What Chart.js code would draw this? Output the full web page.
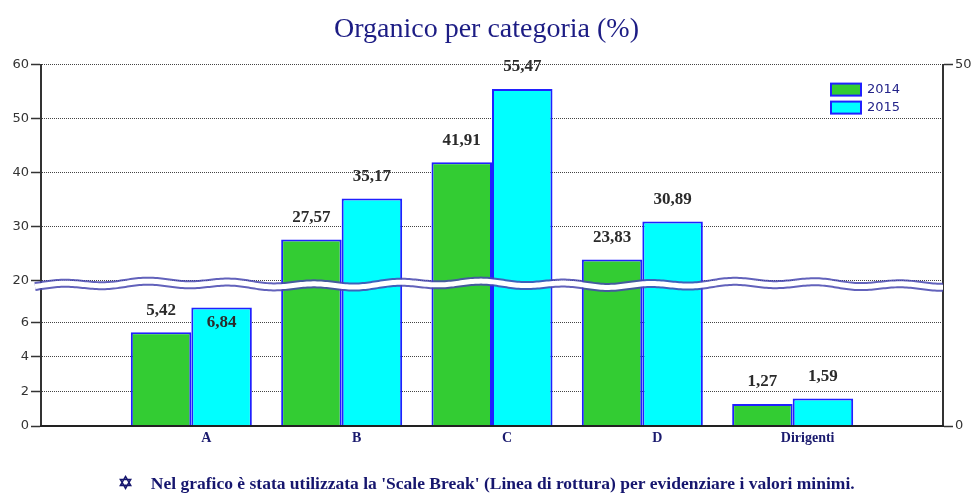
<!DOCTYPE html>
<html>
<head>
<meta charset="utf-8">
<script src="https://cdn.jsdelivr.net/npm/chart.js@4"></script>
<style>
html, body { margin: 0; padding: 0; background: #fff; }
#wrap { width: 973px; height: 495px; }
</style>
</head>
<body>
<div id="wrap"><canvas id="chart" width="973" height="495"></canvas></div>
<script>
const categories = ['A', 'B', 'C', 'D', 'Dirigenti'];
const values2014 = [5.42, 27.57, 41.91, 23.83, 1.27];
const values2015 = [6.84, 35.17, 55.47, 30.89, 1.59];
const seriesNames = ['2014', '2015'];
const leftTicks = [0, 2, 4, 6, 20, 30, 40, 50, 60];
const rightTicks = [0, 50];
const footnote = "Nel grafico è stata utilizzata la 'Scale Break' (Linea di rottura) per evidenziare i valori minimi.";

// linear scale with a break: 0..breakLow on the bottom part, breakHigh..max on the top part
class BrokenScale extends Chart.LinearScale {
  static id = 'broken';
  static defaults = {};
  toDecimal(v) {
    const o = this.options;
    if (v <= o.breakLow) return v / o.breakLow * o.breakPos;
    if (v < o.breakHigh) return o.breakPos;
    return o.breakPos + (v - o.breakHigh) / (this.max - o.breakHigh) * (1 - o.breakPos);
  }
  getPixelForValue(v) {
    return this.getPixelForDecimal(this.toDecimal(v));
  }
  getValueForPixel(p) {
    const o = this.options;
    const d = this.getDecimalForPixel(p);
    if (d <= o.breakPos) return d / o.breakPos * o.breakLow;
    return o.breakHigh + (d - o.breakPos) / (1 - o.breakPos) * (this.max - o.breakHigh);
  }
}
Chart.register(BrokenScale);

const fmt = v => v.toFixed(2).replace('.', ',');

const extras = {
  id: 'extras',
  afterDatasetsDraw(chart) {
    const { ctx, chartArea: a, scales: { y } } = chart;
    const cy = y.getPixelForValue(20) + 4;

    // scale break line
    ctx.save();
    ctx.beginPath();
    for (let x = a.left - 6; x <= a.right; x += 2) {
      const yy = cy + 1.8 * Math.sin(x * 0.075) + 1.4 * Math.sin(x * 0.021 + 1.2);
      if (x === a.left - 6) ctx.moveTo(x, yy); else ctx.lineTo(x, yy);
    }
    ctx.lineJoin = 'round';
    ctx.strokeStyle = 'rgba(70,70,175,0.85)';
    ctx.lineWidth = 9;
    ctx.stroke();
    ctx.strokeStyle = '#fff';
    ctx.lineWidth = 5;
    ctx.stroke();
    ctx.restore();

    // value labels
    ctx.save();
    ctx.font = 'bold 17px "Liberation Serif"';
    ctx.fillStyle = '#2b2b2b';
    ctx.textAlign = 'center';
    ctx.textBaseline = 'middle';
    chart.data.datasets.forEach((ds, i) => {
      chart.getDatasetMeta(i).data.forEach((bar, j) => {
        const v = ds.data[j];
        if (v == null) return;
        let ty = bar.y - 22;
        if (Math.abs(ty - cy) < 14) ty = bar.y + 15;
        ctx.fillText(fmt(v), bar.x, ty);
      });
    });
    ctx.restore();

    // legend
    ctx.save();
    const lx = a.right - 112, ly = a.top + 19;
    ctx.font = '13px "DejaVu Sans"';
    ctx.textBaseline = 'middle';
    chart.data.datasets.forEach((ds, i) => {
      const by = ly + i * 18;
      ctx.fillStyle = ds.backgroundColor;
      ctx.fillRect(lx, by, 30, 12);
      ctx.strokeStyle = ds.borderColor;
      ctx.lineWidth = 2;
      ctx.strokeRect(lx, by, 30, 12);
      ctx.fillStyle = '#24248a';
      ctx.fillText(ds.label, lx + 36, by + 6.5);
    });
    ctx.restore();
  }
};

new Chart(document.getElementById('chart'), {
  type: 'bar',
  data: {
    labels: ['', ...categories, ''],
    datasets: [
      { label: seriesNames[0], data: [null, ...values2014, null], backgroundColor: '#33cc33', borderColor: '#2020ff' },
      { label: seriesNames[1], data: [null, ...values2015, null], backgroundColor: '#00ffff', borderColor: '#2020ff' }
    ]
  },
  options: {
    responsive: false,
    animation: false,
    layout: { padding: 0 },
    datasets: {
      bar: { borderWidth: 2, categoryPercentage: 0.805, barPercentage: 1 }
    },
    scales: {
      x: {
        type: 'category',
        offset: false,
        grid: { display: false, drawTicks: false },
        border: { display: true, color: '#222', width: 2, z: 1 },
        ticks: {
          autoSkip: false, maxRotation: 0, labelOffset: 15, padding: 4,
          color: '#1a1a6e', font: { family: 'Liberation Serif', size: 14, weight: 'bold' }
        },
        afterFit: s => { s.height = 42; }
      },
      y: {
        type: 'broken',
        position: 'left',
        min: 0, max: 60,
        breakLow: 8.42, breakHigh: 20, breakPos: 0.4033,
        afterBuildTicks: s => { s.ticks = leftTicks.map(v => ({ value: v })); },
        grid: { color: '#444', lineWidth: 1, tickLength: 10, tickColor: '#333', tickWidth: 1.5 },
        border: { display: true, color: '#333', width: 2, dash: [1, 1] },
        ticks: { autoSkip: false, padding: 2, color: '#333', font: { family: 'DejaVu Sans', size: 13 } },
        afterFit: s => { s.width = 41; }
      },
      y2: {
        type: 'linear',
        position: 'right',
        min: 0, max: 50,
        afterBuildTicks: s => { s.ticks = rightTicks.map(v => ({ value: v })); },
        grid: { drawOnChartArea: false, tickLength: 10, tickColor: '#333', tickWidth: 1.5 },
        border: { display: true, color: '#333', width: 2 },
        ticks: { padding: 2, color: '#333', font: { family: 'DejaVu Sans', size: 13 } },
        afterFit: s => { s.width = 30; }
      }
    },
    plugins: {
      legend: { display: false },
      tooltip: { enabled: false },
      title: {
        display: true,
        text: 'Organico per categoria (%)',
        color: '#1c1c84',
        font: { family: 'Liberation Serif', size: 28, weight: 'normal', lineHeight: 1.2 },
        padding: { top: 13, bottom: 18 }
      },
      subtitle: {
        display: true,
        position: 'bottom',
        text: '\u2721    ' + footnote,
        color: '#16166e',
        font: { family: 'Liberation Serif', size: 17.5, weight: 'bold', lineHeight: 1.2 },
        padding: { top: 6, bottom: 0 }
      }
    }
  },
  plugins: [extras]
});
</script>
</body>
</html>
